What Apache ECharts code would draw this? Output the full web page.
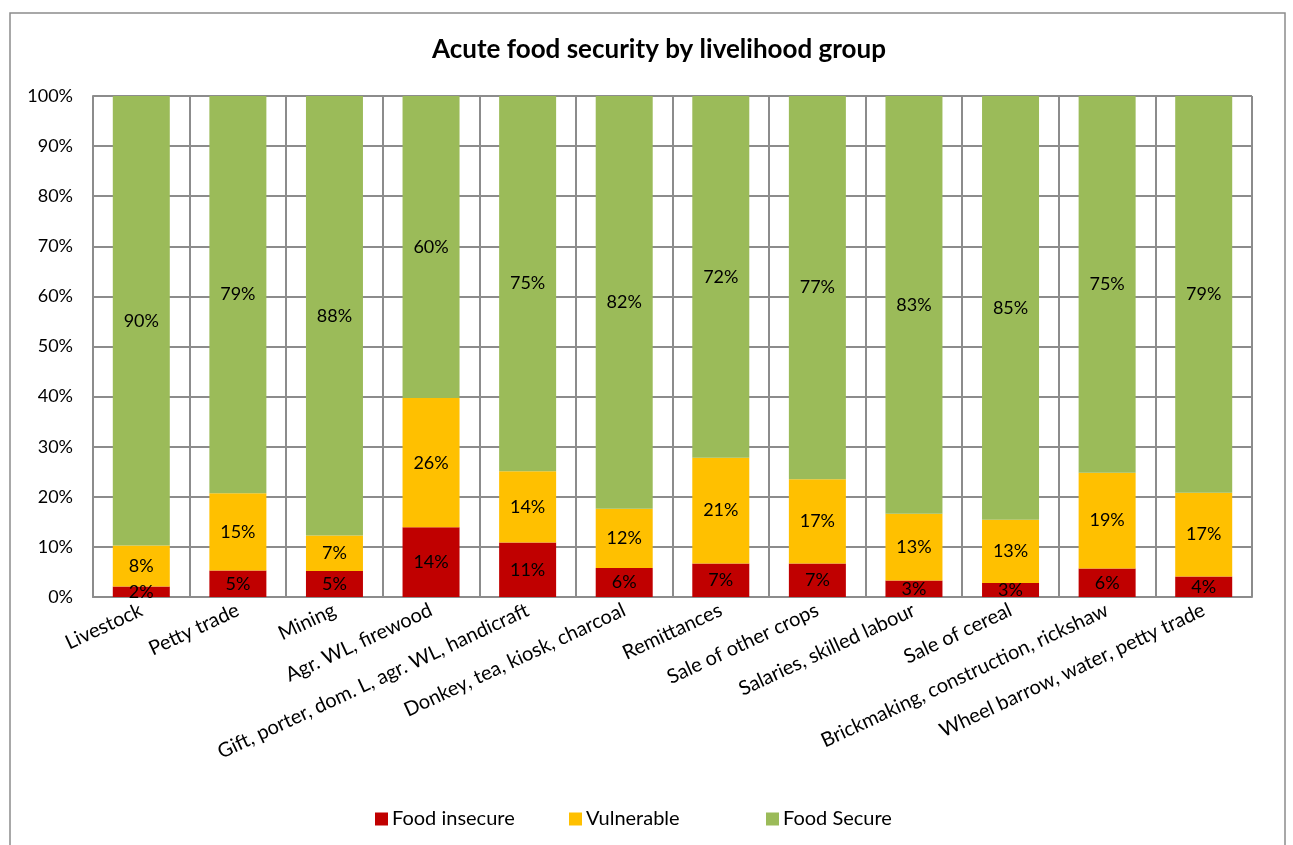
<!DOCTYPE html>
<html>
<head>
<meta charset="utf-8">
<script src="https://cdn.jsdelivr.net/npm/echarts@6/dist/echarts.min.js"></script>
<style>
html,body{margin:0;padding:0;background:#fff;}
#chart{width:1293px;height:845px;}
</style>
</head>
<body>
<div id="chart"></div>
<script>
const categories = ["Livestock","Petty trade","Mining","Agr. WL, firewood","Gift, porter, dom. L, agr. WL, handicraft","Donkey, tea, kiosk, charcoal","Remittances","Sale of other crops","Salaries, skilled labour","Sale of cereal","Brickmaking, construction, rickshaw","Wheel barrow, water, petty trade"];
const foodInsecure = [2.1, 5.3, 5.2, 13.9, 10.9, 5.8, 6.7, 6.7, 3.3, 2.8, 5.7, 4.1];
const vulnerable   = [8.2, 15.4, 7.1, 25.8, 14.2, 11.8, 21.1, 16.8, 13.3, 12.6, 19.1, 16.7];
const foodSecure   = [89.7, 79.3, 87.7, 60.3, 74.9, 82.4, 72.2, 76.5, 83.4, 84.6, 75.2, 79.2];
const yTicks = [0,10,20,30,40,50,60,70,80,90,100];
const seriesNames = ['Food insecure','Vulnerable','Food Secure'];

const FONT = 'Lato, "Open Sans", sans-serif';
const chart = echarts.init(document.getElementById('chart'));
const lbl = {show:true, position:'inside', color:'#000', fontSize:18, fontFamily:FONT,
  formatter: p => Math.round(p.value) + '%'};
function mk(name, data, color){
  return {name, type:'bar', stack:'t', data, barWidth:57, itemStyle:{color}, label:lbl};
}
const legendLefts = [370, 564, 761];
chart.setOption({
  animation:false,
  title:{text:'Acute food security by livelihood group', left:654, top:32, textAlign:'center',
    textStyle:{fontFamily:FONT, fontSize:26, fontWeight:'bold', color:'#000'}},
  graphic:[{type:'rect', shape:{x:10, y:13, width:1275, height:850},
    style:{fill:null, stroke:'#8c8c8c', lineWidth:1.5}, silent:true}],
  grid:{left:93, right:41, top:96, bottom:248},
  legend: seriesNames.map((n,i) => ({left:legendLefts[i], top:804, itemGap:0, itemWidth:13, itemHeight:13, icon:'rect',
    textStyle:{fontFamily:FONT, fontSize:20, color:'#000', padding:[0,0,0,-1]}, data:[n]})),
  xAxis:{type:'category', data:categories,
    axisLine:{lineStyle:{color:'#8c8c8c', width:2}},
    axisTick:{show:false},
    splitLine:{show:true, lineStyle:{color:'#8c8c8c', width:2}},
    axisLabel:{rotate:25, interval:0, margin:12, fontFamily:FONT, fontSize:20, color:'#000'}},
  yAxis:{type:'value', min:0, max:100, interval:10,
    axisLine:{show:true, lineStyle:{color:'#8c8c8c', width:2}},
    axisTick:{show:false},
    splitLine:{show:true, lineStyle:{color:'#8c8c8c', width:2}},
    axisLabel:{formatter:v => yTicks.includes(v) ? v + '%' : '', fontFamily:FONT, fontSize:18, color:'#000', margin:20}},
  series:[
    mk(seriesNames[0], foodInsecure, '#C00000'),
    mk(seriesNames[1], vulnerable, '#FFC000'),
    mk(seriesNames[2], foodSecure, '#9BBB59')
  ]
});
</script>
</body>
</html>
